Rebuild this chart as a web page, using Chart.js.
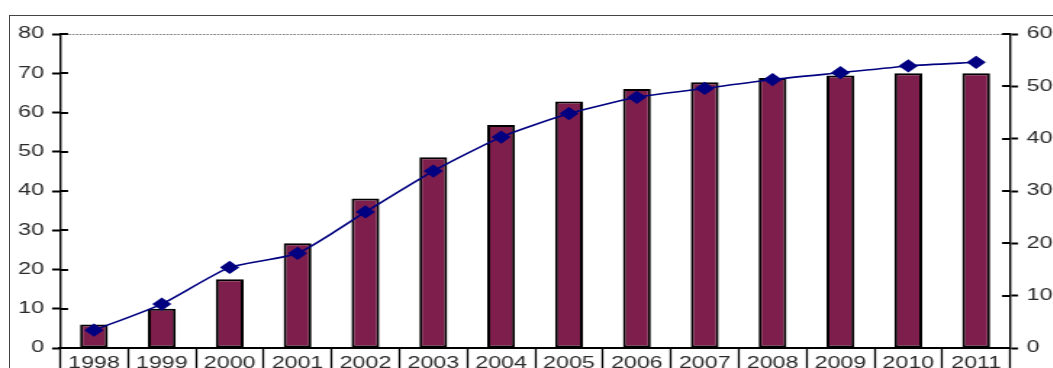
<!DOCTYPE html>
<html>
<head>
<meta charset="utf-8">
<script src="https://cdn.jsdelivr.net/npm/chart.js@4.4.0/dist/chart.umd.min.js"></script>
<style>
  html, body { margin: 0; padding: 0; overflow: hidden; background: #fff; }
  body { width: 1053px; height: 368px; position: relative; }
  #frame { position: absolute; left: 9px; top: 15px; width: 1100px; height: 400px; border: 1px solid #444; }
  #stretch { position: absolute; left: 0; top: 0; width: 760px; height: 400px; transform: scaleX(1.45); transform-origin: 0 0; }
</style>
</head>
<body>
<div id="frame"></div>
<div id="stretch"><canvas id="chart" width="760" height="400"></canvas></div>
<script>
const years = ['1998', '1999', '2000', '2001', '2002', '2003', '2004',
               '2005', '2006', '2007', '2008', '2009', '2010', '2011'];
const barValues = [6, 10, 17.5, 26.7, 38.1, 48.6, 56.8, 62.8, 66, 67.7, 68.8, 69.4, 70, 70];
const lineValues = [3.4, 8.4, 15.4, 18.1, 26, 33.8, 40.3, 44.8, 47.9, 49.6, 51.3, 52.6, 53.9, 54.6];
const leftTicks = [0, 80, 10];   // min, max, step
const rightTicks = [0, 60, 10];

const TICK = 5.5;

// short tick marks pointing into the plot on both value axes
const innerTicks = {
  id: 'innerTicks',
  afterDraw(chart) {
    const ctx = chart.ctx;
    ctx.save();
    ctx.strokeStyle = '#000';
    ctx.lineWidth = 2;
    for (const id of ['y', 'y1']) {
      const scale = chart.scales[id];
      const edge = id === 'y' ? scale.right : scale.left;
      const dir = id === 'y' ? 1 : -1;
      scale.ticks.forEach((t, i) => {
        const py = Math.round(scale.getPixelForTick(i));
        ctx.beginPath();
        ctx.moveTo(edge, py);
        ctx.lineTo(edge + dir * TICK, py);
        ctx.stroke();
      });
    }
    ctx.restore();
  }
};

Chart.defaults.font.family = 'Arial, "Liberation Sans", sans-serif';
Chart.defaults.font.size = 16;
Chart.defaults.color = '#2a2a2a';

new Chart(document.getElementById('chart'), {
  type: 'bar',
  data: {
    labels: years,
    datasets: [{
      type: 'line',
      data: lineValues,
      yAxisID: 'y1',
      borderColor: '#000080',
      borderWidth: 1.6,
      tension: 0.2,
      pointStyle: 'rectRot',
      pointRadius: 5.5,
      pointBackgroundColor: '#000080',
      pointBorderColor: '#000080',
      order: 0
    }, {
      type: 'bar',
      data: barValues,
      yAxisID: 'y',
      backgroundColor: '#7e1e4c',
      borderColor: '#000',
      borderWidth: 2,
      borderSkipped: false,
      barPercentage: 0.41,
      categoryPercentage: 1,
      order: 1
    }]
  },
  plugins: [innerTicks],
  options: {
    responsive: false,
    animation: false,
    layout: { padding: { top: 34, left: 0, right: 0, bottom: 0 } },
    plugins: { legend: { display: false }, tooltip: { enabled: false } },
    scales: {
      x: {
        grid: {
          offset: true,
          drawOnChartArea: false,
          tickLength: 40,
          tickColor: '#000',
          tickWidth: 1.3
        },
        border: { color: '#000', width: 2 },
        ticks: { padding: -34, maxRotation: 0, autoSkip: false },
        afterFit(scale) { scale.height = 52; }
      },
      y: {
        position: 'left',
        min: leftTicks[0],
        max: leftTicks[1],
        ticks: { stepSize: leftTicks[2], padding: 5.5 },
        grid: {
          color: c => (c.tick && c.tick.value === leftTicks[1]) ? '#777' : 'rgba(0,0,0,0)',
          lineWidth: 1,
          tickLength: TICK,
          tickColor: '#000',
          tickWidth: 2
        },
        border: { color: '#000', width: 1.4, dash: [1.5, 1] },
        afterFit(scale) { scale.width = 41.4; }
      },
      y1: {
        position: 'right',
        min: rightTicks[0],
        max: rightTicks[1],
        ticks: { stepSize: rightTicks[2], padding: 6 },
        grid: {
          drawOnChartArea: false,
          tickLength: TICK,
          tickColor: '#000',
          tickWidth: 2
        },
        border: { color: '#000', width: 1.4 },
        afterFit(scale) { scale.width = 63.4; }
      }
    }
  }
});
</script>
</body>
</html>
